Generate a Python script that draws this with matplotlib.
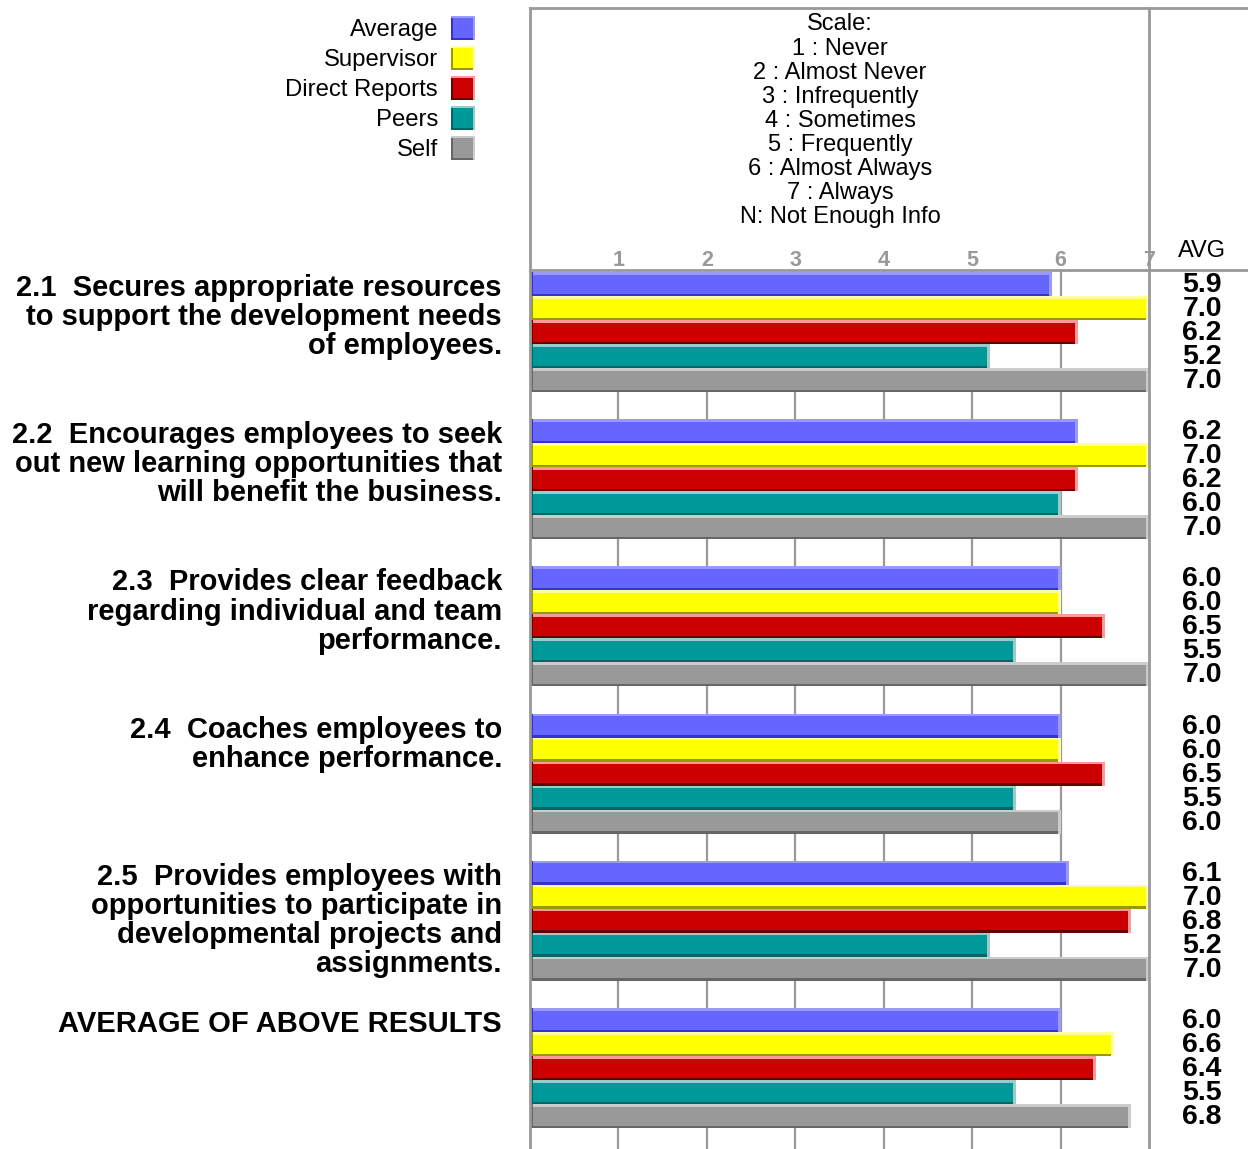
import matplotlib.pyplot as plt

plt.rcParams['font.family'] = ['Liberation Sans', 'DejaVu Sans']

# --- Data ---
SERIES = ["Average", "Supervisor", "Direct Reports", "Peers", "Self"]
QUESTIONS = [
    "2.1  Secures appropriate resources\nto support the development needs\nof employees.",
    "2.2  Encourages employees to seek\nout new learning opportunities that\nwill benefit the business.",
    "2.3  Provides clear feedback\nregarding individual and team\nperformance.",
    "2.4  Coaches employees to\nenhance performance.",
    "2.5  Provides employees with\nopportunities to participate in\ndevelopmental projects and\nassignments.",
    "AVERAGE OF ABOVE RESULTS",
]
avg_scores = [5.9, 6.2, 6.0, 6.0, 6.1, 6.0]
supervisor_scores = [7.0, 7.0, 6.0, 6.0, 7.0, 6.6]
direct_scores = [6.2, 6.2, 6.5, 6.5, 6.8, 6.4]
peer_scores = [5.2, 6.0, 5.5, 5.5, 5.2, 5.5]
self_scores = [7.0, 7.0, 7.0, 6.0, 7.0, 6.8]
SCALE_LINES = ["Scale:", "1 : Never", "2 : Almost Never", "3 : Infrequently",
               "4 : Sometimes", "5 : Frequently", "6 : Almost Always",
               "7 : Always", "N: Not Enough Info"]
TICKS = [1, 2, 3, 4, 5, 6, 7]

# (main, light, dark) colours per series
COLORS = [("#6666FF", "#9999FF", "#3333CC"),
          ("#FFFF00", "#FFFF99", "#999900"),
          ("#CC0000", "#FF9999", "#660000"),
          ("#009999", "#99CCCC", "#006666"),
          ("#999999", "#CCCCCC", "#666666")]
GRID = "#999999"

W, H = 1248, 1149
fig = plt.figure(figsize=(W / 100, H / 100), dpi=100)

def fx(px):
    return px / W

def fy(py):
    return 1 - py / H

# main bar axes in pixel-like y units
X0, X7, YTOP = 530, 1149, 270
ax = fig.add_axes([fx(X0), 0, fx(X7) - fx(X0), fy(YTOP)])
ax.set_xlim(0, 7)
ax.set_ylim(H, YTOP)
ax.axis('off')

PX = 7 / (X7 - X0)  # data units per pixel in x
GROUP0, GROUP_PITCH, BAR_H = 272, 147.2, 24

for t in TICKS[:-1]:
    ax.plot([t, t], [YTOP, H], color=GRID, lw=1.6, zorder=0)

series_vals = [avg_scores, supervisor_scores, direct_scores, peer_scores, self_scores]
for g in range(len(QUESTIONS)):
    gtop = GROUP0 + g * GROUP_PITCH
    for i, vals in enumerate(series_vals):
        main, light, dark = COLORS[i]
        v = vals[g]
        top = gtop + i * BAR_H
        ax.barh(top, v, height=BAR_H, align='edge', color=main, zorder=2)
        ax.barh(top, v, height=2.5, align='edge', color=light, zorder=3)
        ax.barh(top + BAR_H - 2.5, v, height=2.5, align='edge', color=dark, zorder=3)
        ax.barh(top, 3 * PX, height=BAR_H, align='edge', color=dark, zorder=3)
        ax.barh(top, 3 * PX, left=v - 3 * PX, height=BAR_H, align='edge', color=light, zorder=3)
        fig.text(fx(1202), fy(top + BAR_H / 2 + 1), f"{v:.1f}", ha='center', va='center',
                 fontsize=20.5, fontweight='bold')
    fig.text(fx(502), fy(gtop + 2), QUESTIONS[g], ha='right', va='top', fontsize=21,
             fontweight='bold', linespacing=1.05)

# frame lines
line_kw = dict(color=GRID, lw=2, transform=fig.transFigure, clip_on=False)
fig.add_artist(plt.Line2D([fx(X0), fx(X0)], [fy(8), 0], **line_kw))
fig.add_artist(plt.Line2D([fx(X7), fx(X7)], [fy(8), 0], **line_kw))
fig.add_artist(plt.Line2D([fx(X0), 1], [fy(8), fy(8)], **line_kw))
fig.add_artist(plt.Line2D([fx(X0), 1], [fy(YTOP), fy(YTOP)], **line_kw))

for t in TICKS:
    fig.text(fx(X0 + t / PX), fy(261), str(t), ha='center', va='center', fontsize=15.5,
             fontweight='bold', color=GRID)
fig.text(fx(1202), fy(251), "AVG", ha='center', va='center', fontsize=17)

for k, line in enumerate(SCALE_LINES):
    fig.text(fx(840), fy(24.5 + k * 24.1), line, ha='center', va='center', fontsize=17)

# legend
for i, name in enumerate(SERIES):
    cy = 28 + i * 30
    fig.text(fx(438), fy(cy + 2), name, ha='right', va='center', fontsize=17.2)
    main, light, dark = COLORS[i]
    fig.add_artist(plt.Rectangle((fx(451), fy(cy + 12)), fx(24), 24 / H,
                                 facecolor=light, edgecolor='none', transform=fig.transFigure))
    fig.add_artist(plt.Rectangle((fx(451), fy(cy + 12)), fx(22), 22 / H,
                                 facecolor=dark, edgecolor='none', transform=fig.transFigure))
    fig.add_artist(plt.Rectangle((fx(453), fy(cy + 10)), fx(20), 20 / H,
                                 facecolor=main, edgecolor='none', transform=fig.transFigure))

fig.savefig("out.png", dpi=100)
